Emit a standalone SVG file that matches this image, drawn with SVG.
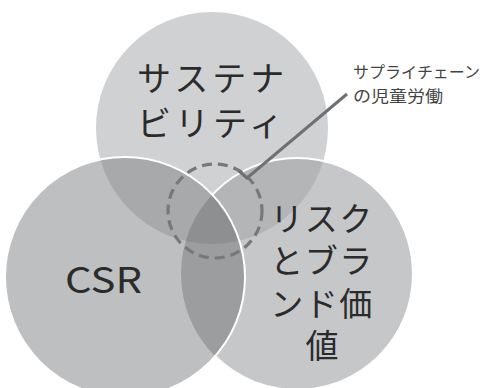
<svg xmlns="http://www.w3.org/2000/svg" width="482" height="388" viewBox="0 0 482 388">
<style>
.big{font-family:"Noto Sans CJK JP","Noto Sans",sans-serif;font-size:34px;fill:#2b2b2b}
.small{font-family:"Noto Sans CJK JP","Noto Sans",sans-serif;font-size:16px;fill:#444}
.edge{fill:none;stroke:#ffffff;stroke-width:2}
</style>
<defs>
<clipPath id="cTop"><circle cx="212" cy="128" r="116"/></clipPath>
<clipPath id="cLeft"><circle cx="125" cy="277" r="120"/></clipPath>
<clipPath id="cRight"><circle cx="297" cy="274" r="116"/></clipPath>
<mask id="notLeft"><rect width="482" height="388" fill="#fff"/><circle cx="125" cy="277" r="120" fill="#000"/></mask>
</defs>
<rect width="482" height="388" fill="#ffffff"/>
<g id="sustainability">
<circle cx="212" cy="128" r="116" fill="#d0d1d3"/>
</g>
<g id="risk-brand">
<circle cx="297" cy="274" r="116" fill="#c6c7c9"/>
<circle cx="297" cy="274" r="116" fill="#b4b5b7" clip-path="url(#cTop)"/>
</g>
<g id="csr">
<circle cx="125" cy="277" r="120" fill="#bebfc1"/>
<circle cx="125" cy="277" r="120" fill="#a8a9ab" clip-path="url(#cTop)"/>
<g clip-path="url(#cRight)">
<circle cx="125" cy="277" r="120" fill="#9c9d9f"/>
<g clip-path="url(#cTop)"><circle cx="125" cy="277" r="120" fill="#8e8f91"/></g>
</g>
</g>
<g id="edges">
<circle class="edge" cx="297" cy="274" r="116" mask="url(#notLeft)"/>
<circle class="edge" cx="125" cy="277" r="120"/>
</g>
<g id="labels">
<text class="big" letter-spacing="4"><tspan x="137" y="91">サステナ</tspan><tspan x="137" y="136">ビリティ</tspan></text>
<text class="big" x="65" y="293" textLength="77" lengthAdjust="spacingAndGlyphs" style="font-size:36px">CSR</text>
<text class="big" text-anchor="middle" style="font-size:33px" letter-spacing="1.5"><tspan x="322" y="231">リスク</tspan><tspan x="322" y="273">とブラ</tspan><tspan x="322" y="316">ンド価</tspan><tspan x="322" y="358" letter-spacing="0">値</tspan></text>
</g>
<g id="child-labor">
<circle cx="215" cy="211" r="47" fill="none" stroke="#77787a" stroke-width="3.2" stroke-dasharray="10 6"/>
<text class="small"><tspan x="353" y="78" textLength="127" lengthAdjust="spacingAndGlyphs">サプライチェーン</tspan><tspan x="353" y="102" textLength="90" lengthAdjust="spacingAndGlyphs">の児童労働</tspan></text>
</g>
<g id="connectors">
<polyline points="239,171 247,178 347,94" fill="none" stroke="#6f7072" stroke-width="3"/>
</g>
</svg>
